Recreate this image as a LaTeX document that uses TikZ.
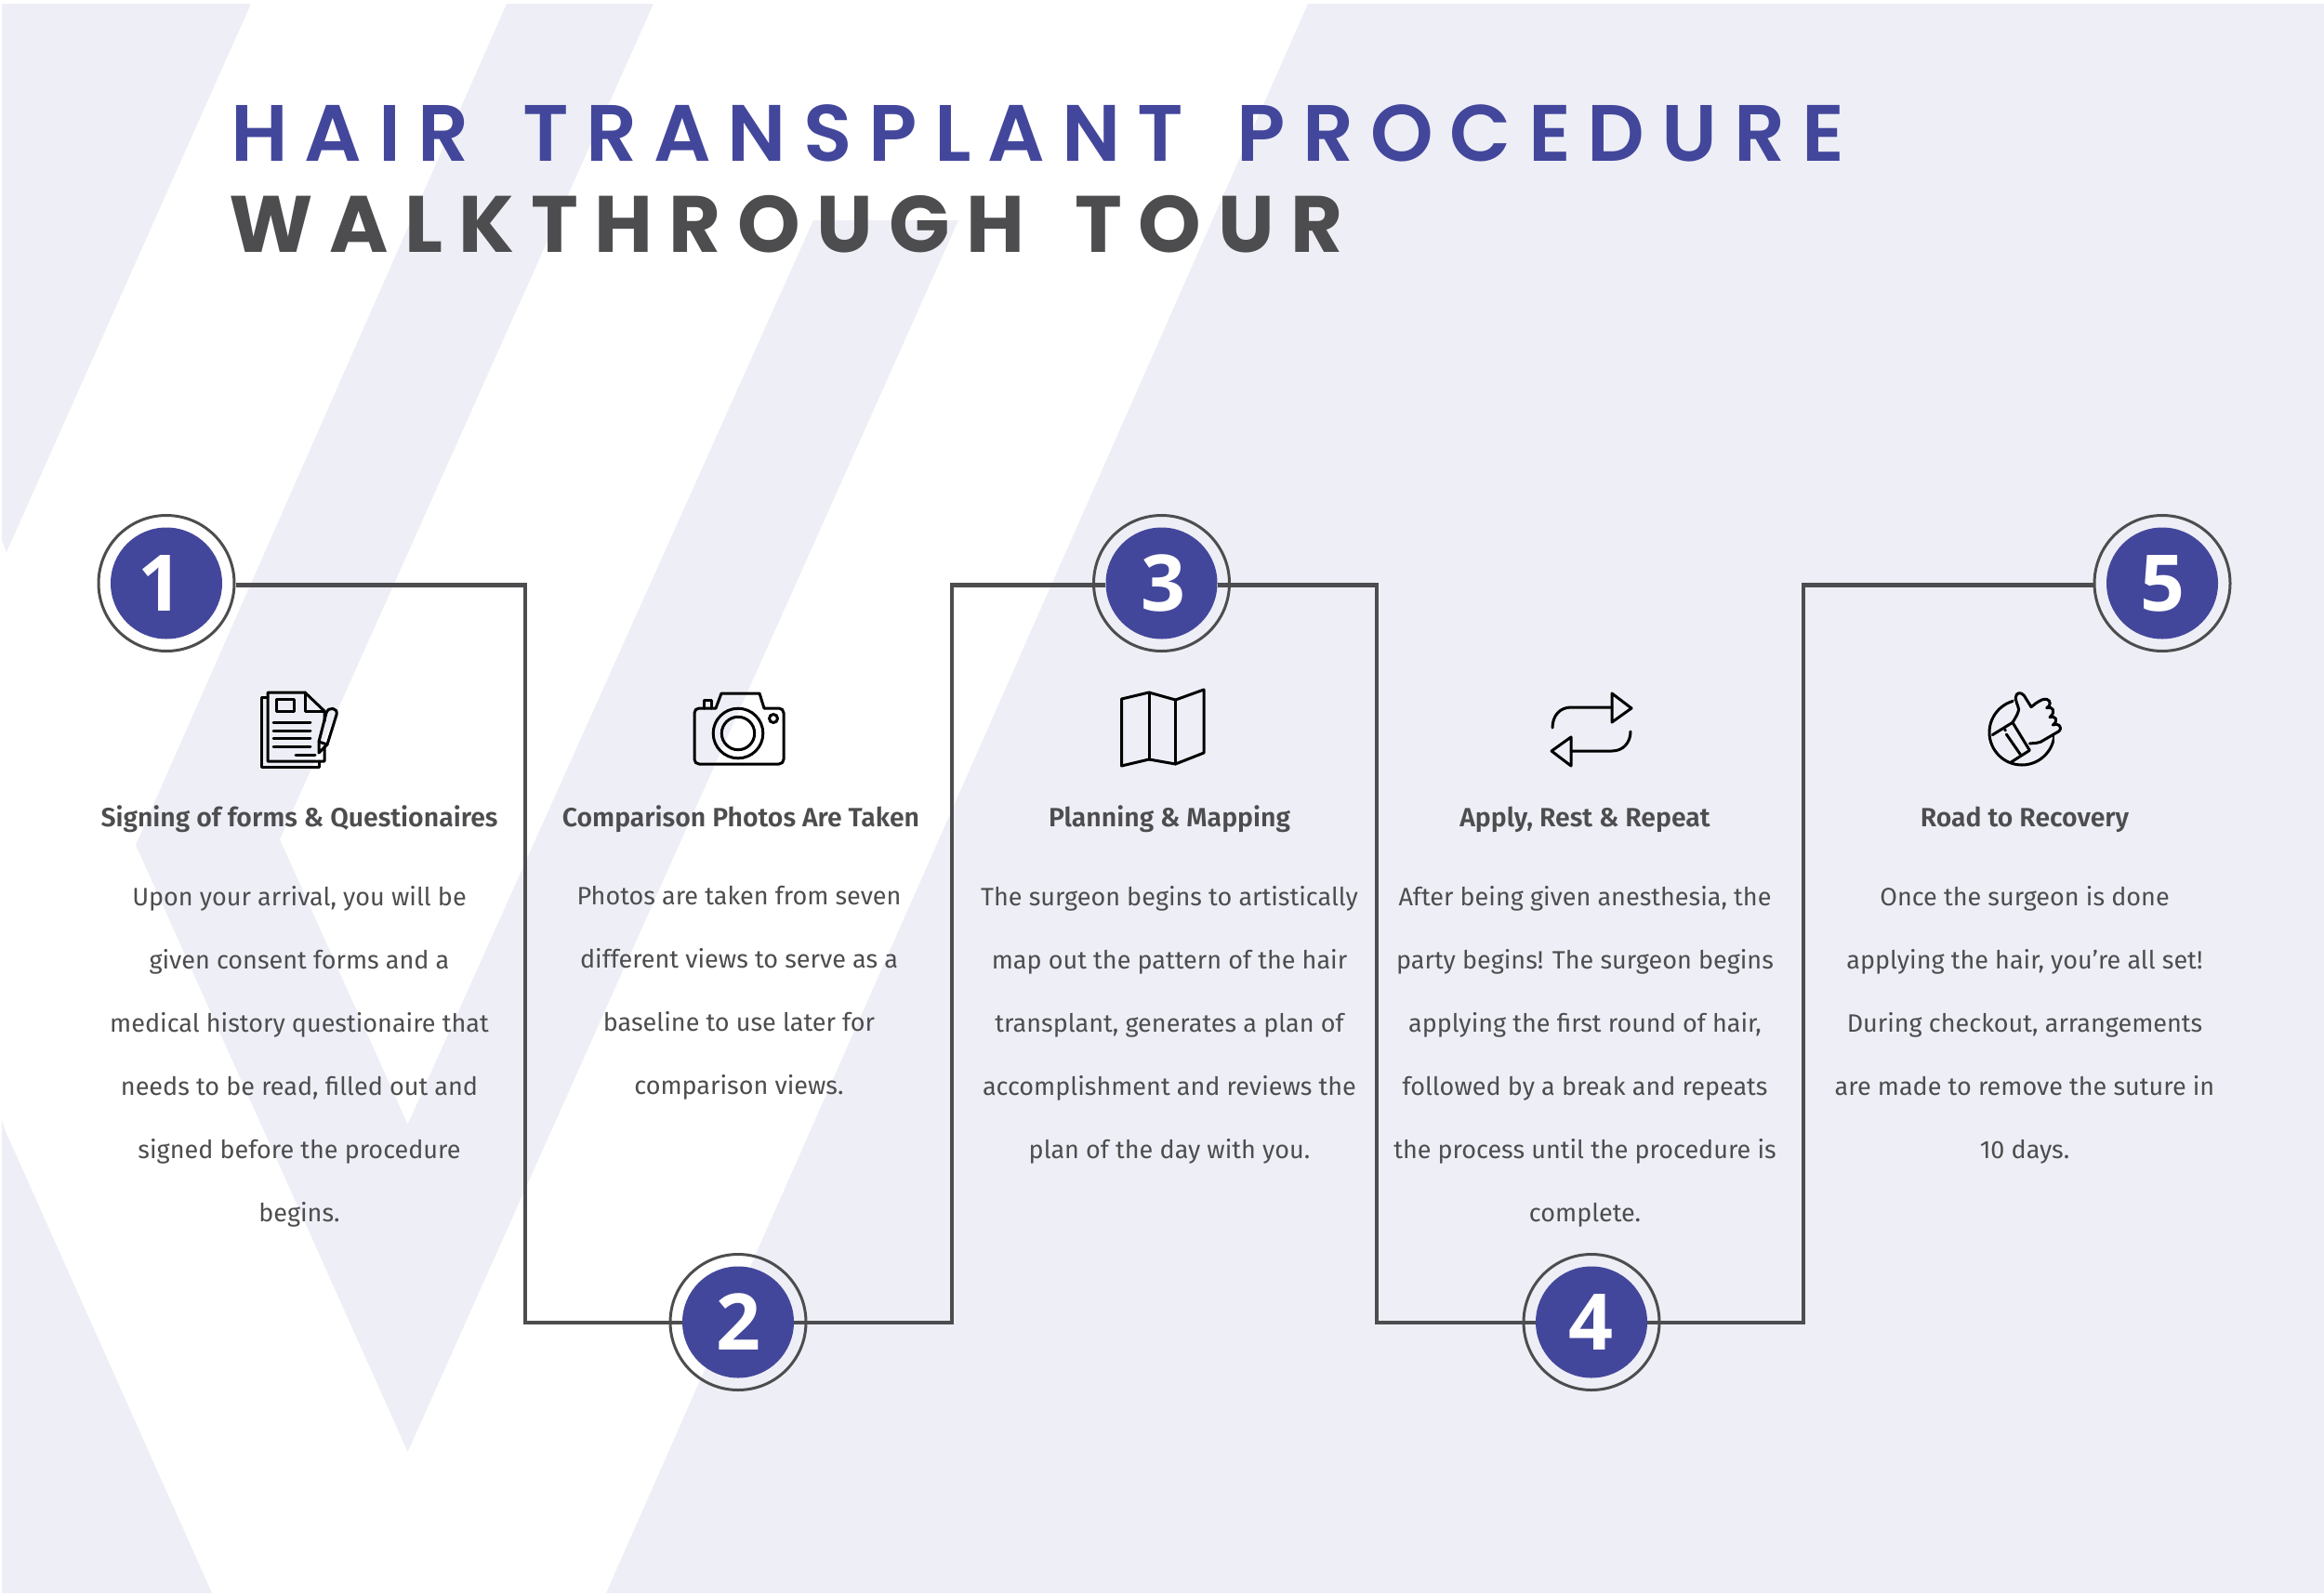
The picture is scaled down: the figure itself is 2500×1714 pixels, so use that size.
\documentclass[tikz,border=0pt]{standalone}
\usepackage{fontspec}
\setmainfont{Open Sans}
\newfontfamily\bodyf{Fira Sans}[BoldFont=* SemiBold]
\newfontfamily\titlef{Poppins}[UprightFont=* SemiBold,BoldFont=*,LetterSpace=21,WordSpace=1.5]
\newfontfamily\titleg{Poppins}[UprightFont=* Bold,BoldFont=*,LetterSpace=20.4,WordSpace=1.5]
\newfontfamily\numf{Open Sans}[UprightFont=* Bold,BoldFont=*]
\definecolor{lav}{HTML}{EEEFF6}
\definecolor{ink}{HTML}{4D4D4F}
\definecolor{blu}{HTML}{43479B}
\tikzset{
 x=1pt,y=-1pt,
 band/.style={fill=lav,draw=none},
 wire/.style={draw=ink,line width=4.2pt},
 ring/.style={circle,draw=ink,line width=3pt,minimum size=146pt,inner sep=0pt},
 disc/.style={circle,fill=blu,minimum size=120pt,inner sep=0pt},
 num/.style={text=white,inner sep=0pt,font=\numf\fontsize{84pt}{84pt}\selectfont},
 head/.style={font=\bodyf\bfseries\fontsize{28.4pt}{34pt}\selectfont,text=ink,anchor=base},
 para/.style={font=\bodyf\fontsize{27pt}{68pt}\selectfont,text=ink,align=center,anchor=north},
 ic/.style={draw=black,line width=3pt,line join=round,line cap=round},
}
\begin{document}
\begin{tikzpicture}
\useasboundingbox (0,0) rectangle (2500,1714);
\fill[white] (0,0) rectangle (2500,1714);
\fill[band] (2,4) -- (270,4) -- (7,594) -- (2,582) -- cycle;
\fill[band] (545,4) -- (703,4) -- (301,903) -- (438.6,1209.6) -- (875,237) -- (1031,237) -- (438.6,1562) -- (146,909) -- cycle;
\fill[band] (2,1205) -- (5,1215) -- (228,1714) -- (2,1714) -- cycle;
\fill[band] (1407,4) -- (2500,4) -- (2500,1714) -- (652,1714) -- cycle;
\node[anchor=base west,inner sep=0pt,text=blu,font=\titlef\fontsize{86pt}{86pt}\selectfont] (t1) at (248,173) {HAIR TRANSPLANT PROCEDURE};
\node[anchor=base west,inner sep=0pt,text=ink,font=\titleg\fontsize{86pt}{86pt}\selectfont] (t2) at (246,271) {WALKTHROUGH TOUR};
\foreach \n/\x/\y in {1/179/627.5,2/794/1422.5,3/1249.5/627.5,4/1712/1422.5,5/2326/627.5}{
 \node[ring] (r\n) at (\x,\y) {};
 \node[disc] (d\n) at (\x,\y) {};
}
\coordinate (k1) at (565,629.5);
\coordinate (k2) at (565,1423);
\coordinate (k3) at (1024,1423);
\coordinate (k4) at (1024,629.5);
\coordinate (k5) at (1481,629.5);
\coordinate (k6) at (1481,1423);
\coordinate (k7) at (1940,1423);
\coordinate (k8) at (1940,629.5);
\draw[wire] (k1 -| r1.east) -- (k1) -- (k2) -- (k2 -| d2.west);
\draw[wire] (k3 -| d2.east) -- (k3) -- (k4) -- (k4 -| d3.west);
\draw[wire] (k5 -| d3.east) -- (k5) -- (k6) -- (k6 -| d4.west);
\draw[wire] (k7 -| d4.east) -- (k7) -- (k8) -- (k8 -| r5.west);
\node[num,xshift=-7pt] (n1) at (d1) {1};
\node[num] (n2) at (d2) {2};
\node[num,xshift=2pt] (n3) at (d3) {3};
\node[num,xshift=-1pt] (n4) at (d4) {4};
\node[num] (n5) at (d5) {5};
% icon 1: papers and pencil
\draw[ic] (288,750) -- (281,750) -- (281,825) -- (343,825) -- (343,819);
\draw[ic] (349,803) -- (349,819) -- (288,819) -- (288,745) -- (328,745) -- (349,765) -- (349,776);
\draw[ic] (328,745) -- (328,765) -- (349,765);
\draw[ic] (297,752) rectangle (316,765);
\draw[ic] (294,777) -- (334,777) (294,786) -- (334,786) (294,794) -- (334,794) (294,803) -- (334,803) (318,812) -- (339,812);
\draw[ic] (343,810) -- (343,798) -- (351,767) .. controls (353,760) and (364,761) .. (362,769) -- (352,801) -- cycle;
\draw[ic] (343,798) -- (352,801);
% icon 2: camera
\draw[ic,rounded corners=5pt] (770,762) -- (747,762) -- (747,822) -- (843,822) -- (843,762) -- (822,762);
\draw[ic] (770,762) -- (776,746) -- (817,746) -- (822,762);
\draw[ic] (757,762) -- (757,753) -- (765,753) -- (765,762);
\draw[ic] (794,789) circle[radius=26.8pt];
\draw[ic] (794,789) circle[radius=17.7pt];
\draw[ic] (832,773) circle[radius=4.5pt];
% icon 3: map
\draw[ic] (1206.5,752) -- (1236,745) -- (1264.5,753) -- (1295,742) -- (1295,810) -- (1264.5,822) -- (1236,817) -- (1206.5,824) -- cycle;
\draw[ic] (1236,745) -- (1236,817) (1264.5,753) -- (1264.5,822);
% icon 4: repeat arrows
\draw[ic] (1670,783) .. controls (1670,770) and (1678,761) .. (1690,761) -- (1734,761);
\draw[ic] (1734,746) -- (1755,762) -- (1734,777) -- cycle;
\draw[ic] (1754,787) .. controls (1754,799) and (1746,808) .. (1734,808) -- (1690,808);
\draw[ic] (1690,793) -- (1669,808) -- (1690,824) -- cycle;
% icon 5: thumbs up
\draw[ic] (2175,788) circle[radius=35pt];
\begin{scope}[shift={(2100,720)},x=0.3333pt,y=-0.3333pt]
\fill[lav] (330,212) -- (330,235) -- (360,235) -- (360,170) -- (300,80) -- (200,80) -- (195,172) -- (250,262) -- (300,225) -- cycle;
\draw[ic] (130,212) -- (195,172) -- (250,262) -- (190,300);
\draw[ic] (175,210) -- (220,275) (170,195) -- (172,198);
\draw[ic] (195,172) .. controls (205,155) and (212,145) .. (215,130) .. controls (212,115) and (205,105) .. (205,92) .. controls (205,75) and (222,72) .. (232,85) -- (255,122) -- (270,110) .. controls (285,100) and (295,95) .. (305,97) .. controls (318,100) and (320,118) .. (305,125) .. controls (322,118) and (338,135) .. (315,155) .. controls (332,148) and (345,165) .. (325,180) .. controls (340,172) and (358,185) .. (345,200) -- (285,235) .. controls (275,240) and (265,238) .. (250,240);
\end{scope}
\node[head] (h1) at (322,889) {Signing of forms \& Questionaires};
\node[head] (h2) at (797,889) {Comparison Photos Are Taken};
\node[head] (h3) at (1258,889) {Planning \& Mapping};
\node[head] (h4) at (1705,889) {Apply, Rest \& Repeat};
\node[head] (h5) at (2178,889) {Road to Recovery};
\node[para] (p1) at (322,950) {Upon your arrival, you will be\\given consent forms and a\\medical history questionaire that\\needs to be read, filled out and\\signed before the procedure\\begins.};
\node[para] (p2) at (795,950) {Photos are taken from seven\\different views to serve as a\\baseline to use later for\\comparison views.};
\node[para] (p3) at (1258,950) {The surgeon begins to artistically\\map out the pattern of the hair\\transplant, generates a plan of\\accomplishment and reviews the\\plan of the day with you.};
\node[para] (p4) at (1705,950) {After being given anesthesia, the\\party begins! The surgeon begins\\applying the first round of hair,\\followed by a break and repeats\\the process until the procedure is\\complete.};
\node[para] (p5) at (2178,950) {Once the surgeon is done\\applying the hair, you’re all set!\\During checkout, arrangements\\are made to remove the suture in\\10 days.};
\end{tikzpicture}
\end{document}
